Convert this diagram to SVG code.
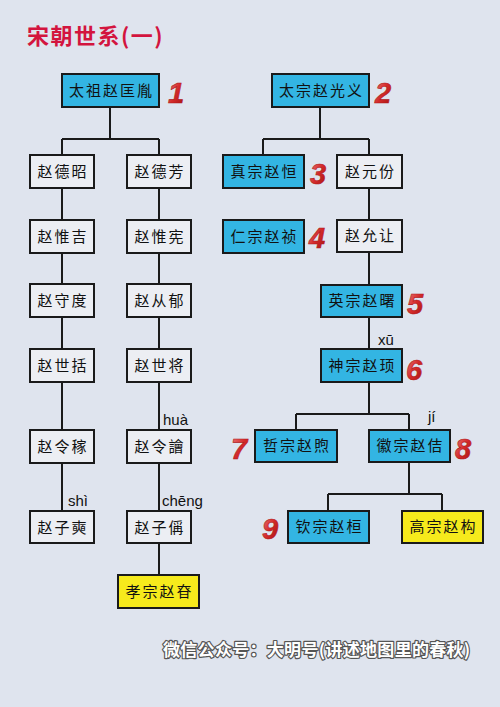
<svg xmlns="http://www.w3.org/2000/svg" width="500" height="707" viewBox="0 0 500 707">
<defs>
<linearGradient id="rg" x1="0" y1="0" x2="1" y2="1">
<stop offset="0" stop-color="#f08080"/>
<stop offset="0.5" stop-color="#d42a2a"/>
<stop offset="1" stop-color="#a01010"/>
</linearGradient>
</defs>
<style>
.bg{fill:#dfe4ee}
.box rect{stroke:#1a1a1a;stroke-width:2}
.blue rect{fill:#33b5e3}
.white rect{fill:#eceef3}
.yellow rect{fill:#f6ea1c}
.box text{font-family:"Noto Sans CJK SC","Noto Sans CJK TC",sans-serif;font-size:15px;fill:#111;text-anchor:middle;letter-spacing:2px}
.num{font-family:"Liberation Sans",Arial,sans-serif;font-weight:bold;font-style:italic;font-size:29px;fill:url(#rg);stroke:#b01818;stroke-width:0.6}
.py{font-family:"Liberation Sans",Arial,sans-serif;font-size:15px;fill:#111}
#conn path{fill:none;stroke:#1a1a1a;stroke-width:2}
.title{font-family:"Noto Sans CJK SC",sans-serif;font-weight:bold;font-size:22px;fill:#d3143e;letter-spacing:1.5px}
.foot{font-family:"Noto Sans CJK SC",sans-serif;font-weight:bold;font-size:17px;fill:#fff;stroke:#555;stroke-width:2.4;paint-order:stroke;stroke-linejoin:round;letter-spacing:0.3px}
</style>
<rect class="bg" x="0" y="0" width="500" height="707"/>
<text class="title" x="27" y="44">宋朝世系(一)</text>

<g id="conn">
<path d="M110 107V139M62 139H159M62 139V155M159 139V155"/>
<path d="M62 188V220M62 253V284M62 317V349M62 382V430M62 463V511"/>
<path d="M159 188V220M159 253V284M159 317V349M159 382V430M159 463V511M159 543V575"/>
<path d="M320 107V139M263 139H369M263 139V155M369 139V155"/>
<path d="M369 188V220M369 252V285M369 317V349M369 382V414M296 414H409M296 414V430M409 414V430"/>
<path d="M409 462V494M328 494H442M328 494V511M442 494V511"/>
</g>

<g id="n-taizu" class="box blue"><rect x="62" y="74" width="97" height="33"/><text x="111.5" y="96">太祖赵匡胤</text></g>
<g id="n-taizong" class="box blue"><rect x="272" y="74" width="97" height="33"/><text x="321.5" y="96">太宗赵光义</text></g>

<g id="n-dezhao" class="box white"><rect x="30" y="155" width="64" height="33"/><text x="63" y="177">赵德昭</text></g>
<g id="n-defang" class="box white"><rect x="127" y="155" width="64" height="33"/><text x="160" y="177">赵德芳</text></g>
<g id="n-weiji" class="box white"><rect x="30" y="220" width="64" height="33"/><text x="63" y="242">赵惟吉</text></g>
<g id="n-weixian" class="box white"><rect x="127" y="220" width="64" height="33"/><text x="160" y="242">赵惟宪</text></g>
<g id="n-shoudu" class="box white"><rect x="30" y="284" width="64" height="33"/><text x="63" y="306">赵守度</text></g>
<g id="n-congyu" class="box white"><rect x="127" y="284" width="64" height="33"/><text x="160" y="306">赵从郁</text></g>
<g id="n-shikuo" class="box white"><rect x="30" y="349" width="64" height="33"/><text x="63" y="371">赵世括</text></g>
<g id="n-shijiang" class="box white"><rect x="127" y="349" width="64" height="33"/><text x="160" y="371">赵世将</text></g>
<g id="n-lingjia" class="box white"><rect x="30" y="430" width="64" height="33"/><text x="63" y="452">赵令稼</text></g>
<g id="n-linghua" class="box white"><rect x="127" y="430" width="64" height="33"/><text x="160" y="452">赵令譮</text></g>
<g id="n-zishi" class="box white"><rect x="30" y="511" width="64" height="32"/><text x="63" y="533">赵子奭</text></g>
<g id="n-zicheng" class="box white"><rect x="127" y="511" width="64" height="32"/><text x="160" y="533">赵子偁</text></g>
<g id="n-xiaozong" class="box yellow"><rect x="118" y="575" width="81" height="33"/><text x="159.5" y="597">孝宗赵昚</text></g>

<g id="n-zhenzong" class="box blue"><rect x="223" y="155" width="81" height="33"/><text x="264.5" y="177">真宗赵恒</text></g>
<g id="n-yuanfen" class="box white"><rect x="337" y="155" width="65" height="33"/><text x="370.5" y="177">赵元份</text></g>
<g id="n-renzong" class="box blue"><rect x="223" y="220" width="81" height="33"/><text x="264.5" y="242">仁宗赵祯</text></g>
<g id="n-yunrang" class="box white"><rect x="337" y="220" width="65" height="32"/><text x="370.5" y="241">赵允让</text></g>
<g id="n-yingzong" class="box blue"><rect x="321" y="285" width="81" height="32"/><text x="362.5" y="306">英宗赵曙</text></g>
<g id="n-shenzong" class="box blue"><rect x="321" y="349" width="81" height="33"/><text x="362.5" y="371">神宗赵顼</text></g>
<g id="n-zhezong" class="box blue"><rect x="255" y="430" width="82" height="32"/><text x="297" y="451">哲宗赵煦</text></g>
<g id="n-huizong" class="box blue"><rect x="369" y="430" width="81" height="32"/><text x="410.5" y="451">徽宗赵佶</text></g>
<g id="n-qinzong" class="box blue"><rect x="288" y="511" width="81" height="32"/><text x="329.5" y="532">钦宗赵桓</text></g>
<g id="n-gaozong" class="box yellow"><rect x="402" y="511" width="81" height="32"/><text x="443.5" y="532">高宗赵构</text></g>

<g id="nums">
<text class="num" x="168" y="103">1</text>
<text class="num" x="375" y="103">2</text>
<text class="num" x="310" y="184">3</text>
<text class="num" x="309" y="248">4</text>
<text class="num" x="407" y="314">5</text>
<text class="num" x="406" y="380">6</text>
<text class="num" x="231" y="459">7</text>
<text class="num" x="455" y="459">8</text>
<text class="num" x="262" y="539">9</text>
</g>

<g id="pinyin">
<text class="py" x="378" y="345">xū</text>
<text class="py" x="163" y="425">huà</text>
<text class="py" x="68" y="506">shì</text>
<text class="py" x="162" y="506">chēng</text>
<text class="py" x="428" y="422">jí</text>
</g>

<text class="foot" x="163" y="656">微信公众号：大明号(讲述地图里的春秋)</text>
</svg>
